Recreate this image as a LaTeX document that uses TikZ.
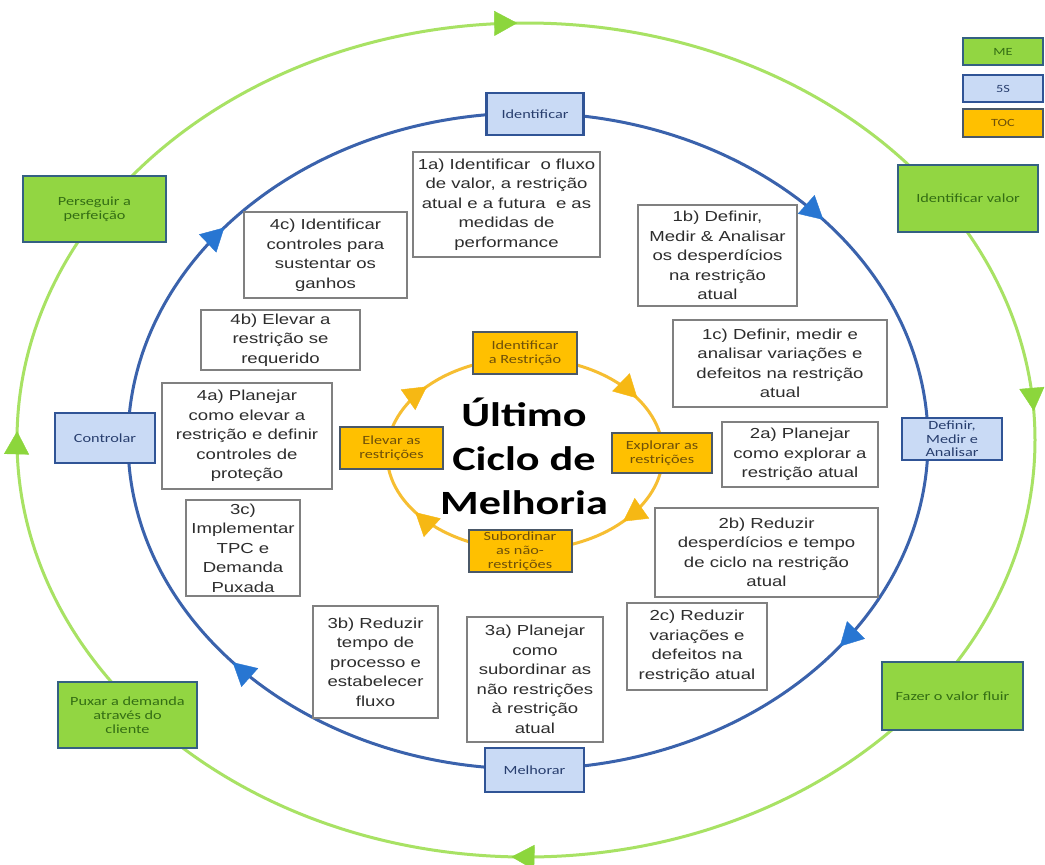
\documentclass[tikz,border=0pt]{standalone}
\usepackage{fontspec}
\usetikzlibrary{arrows.meta,decorations.markings}

\newfontfamily\bodyfont[FakeStretch=1.28]{Liberation Sans}
\newfontfamily\labelfont[FakeStretch=1.3]{Carlito}

\definecolor{leafgreen}{RGB}{146,214,66}
\definecolor{leafedge}{RGB}{52,96,130}
\definecolor{leaftext}{RGB}{52,110,20}
\definecolor{ringgreen}{RGB}{168,226,100}
\definecolor{arrowgreen}{RGB}{140,214,60}
\definecolor{skyfill}{RGB}{201,218,245}
\definecolor{skyedge}{RGB}{48,84,150}
\definecolor{skytext}{RGB}{40,62,110}
\definecolor{ringblue}{RGB}{58,98,172}
\definecolor{arrowblue}{RGB}{40,118,210}
\definecolor{ambfill}{RGB}{255,192,0}
\definecolor{ambedge}{RGB}{74,88,104}
\definecolor{ambtext}{RGB}{110,80,10}
\definecolor{ringamber}{RGB}{246,190,50}
\definecolor{arrowamber}{RGB}{246,184,20}
\definecolor{boxgray}{RGB}{128,128,128}
\definecolor{bodytext}{RGB}{45,45,45}

\tikzset{
  txtbox/.style={draw=boxgray, line width=1.4pt, fill=white, align=center,
    inner sep=1pt, text=bodytext, font=\bodyfont\fontsize{14.5}{19.5}\selectfont},
  leafbox/.style={draw=leafedge, line width=2pt, fill=leafgreen, align=center,
    inner sep=1pt, text=leaftext, font=\labelfont\fontsize{12.5}{14}\selectfont},
  skybox/.style={draw=skyedge, line width=2.2pt, fill=skyfill, align=center,
    inner sep=1pt, text=skytext, font=\labelfont\fontsize{12.5}{13.5}\selectfont},
  ambbox/.style={draw=ambedge, line width=2pt, fill=ambfill, align=center,
    inner sep=1pt, text=ambtext, font=\labelfont\fontsize{12.5}{14}\selectfont},
  cwtip/.style={decoration={markings, mark=at position #1 with {\arrowreversed{Triangle[length=23pt,width=25pt]}}}, postaction={decorate}},
  greenring/.style={draw=ringgreen, line width=3pt},
  bluering/.style={draw=ringblue, line width=3pt},
  amberring/.style={draw=ringamber, line width=3pt},
}

\begin{document}
\begin{tikzpicture}[x=1pt, y=-1pt]
\useasboundingbox (0,0) rectangle (1045,865);
\fill[white] (0,0) rectangle (1045,865);

% outer cycle (Lean)
\draw[greenring] (526,440) ellipse [x radius=509pt, y radius=417pt];
\begin{scope}[color=arrowgreen, fill=arrowgreen]
  \foreach \p in {0.01,0.253,0.497,0.745}
    \path[cwtip=\p] (526,440) ellipse [x radius=509pt, y radius=417pt];
\end{scope}

% middle cycle (Six Sigma)
\draw[bluering] (528,441) ellipse [x radius=400pt, y radius=328pt];
\begin{scope}[color=arrowblue, fill=arrowblue]
  \foreach \p in {0.11,0.395,0.61,0.9}
    \path[cwtip=\p] (528,441) ellipse [x radius=400pt, y radius=328pt];
\end{scope}

% inner cycle (TOC)
\draw[amberring] (525,454) ellipse [x radius=138pt, y radius=96pt];
\begin{scope}[color=arrowamber, fill=arrowamber]
  \foreach \p in {0.085,0.39,0.59,0.89}
    \path[cwtip=\p] (525,454) ellipse [x radius=138pt, y radius=96pt];
\end{scope}

% legend
\node[leafbox, minimum width=80pt, minimum height=27pt, font=\labelfont\fontsize{11}{12}\selectfont] (legME) at (1003,51.5) {ME};
\node[skybox, minimum width=80pt, minimum height=27pt, font=\labelfont\fontsize{11}{12}\selectfont] (leg5S) at (1003,88.5) {5S};
\node[ambbox, minimum width=80pt, minimum height=28pt, font=\labelfont\fontsize{11}{12}\selectfont] (legTOC) at (1003,122.5) {TOC};

% Lean steps
\node[leafbox, minimum width=143pt, minimum height=66pt] (perf) at (94.5,209) {Perseguir a\\perfeição};
\node[leafbox, minimum width=140pt, minimum height=67pt] (valor) at (968,198.5) {Identificar valor};
\node[leafbox, minimum width=141pt, minimum height=68pt] (fluir) at (952.5,696) {Fazer o valor fluir};
\node[leafbox, minimum width=139pt, minimum height=66pt] (puxar) at (127.5,715) {Puxar a demanda\\através do\\cliente};

% DMAIC phases
\node[skybox, minimum width=97pt, minimum height=42pt] (ident) at (535,114) {Identificar};
\node[skybox, minimum width=100pt, minimum height=42pt] (dma) at (952,439) {Definir,\\Medir e\\Analisar};
\node[skybox, minimum width=99pt, minimum height=44pt] (melh) at (534.5,770) {Melhorar};
\node[skybox, minimum width=100pt, minimum height=50pt] (ctrl) at (105,438) {Controlar};

% TOC steps
\node[ambbox, minimum width=104pt, minimum height=42pt] (tocid) at (525,353) {Identificar\\a Restrição};
\node[ambbox, minimum width=100pt, minimum height=40pt] (tocexp) at (662,453) {Explorar as\\restrições};
\node[ambbox, minimum width=103pt, minimum height=42pt] (tocsub) at (520,551) {Subordinar\\as não-\\restrições};
\node[ambbox, minimum width=103pt, minimum height=42pt] (tocelev) at (391.5,448) {Elevar as\\restrições};

% centre title
\node[align=center, text=black, font=\labelfont\bfseries\fontsize{34}{44}\selectfont] (title) at (524,456) {Último\\Ciclo de\\Melhoria};

% detailed actions
\node[txtbox, minimum width=187pt, minimum height=105pt] (a1) at (506.5,204.5) {1a) Identificar \ o fluxo\\de valor, a restrição\\atual e a futura \ e as\\medidas de\\performance};
\node[txtbox, minimum width=159pt, minimum height=101pt] (b1) at (717.5,255.5) {1b) Definir,\\Medir \& Analisar\\os desperdícios\\na restrição\\atual};
\node[txtbox, minimum width=214pt, minimum height=87pt] (c1) at (780,363.5) {1c) Definir, medir e\\analisar variações e\\defeitos na restrição\\atual};
\node[txtbox, minimum width=156pt, minimum height=65pt] (a2) at (800,454.5) {2a) Planejar\\como explorar a\\restrição atual};
\node[txtbox, minimum width=223pt, minimum height=89pt] (b2) at (766.5,552.5) {2b) Reduzir\\desperdícios e tempo\\de ciclo na restrição\\atual};
\node[txtbox, minimum width=140pt, minimum height=87pt] (c2) at (697,646.5) {2c) Reduzir\\variações e\\defeitos na\\restrição atual};
\node[txtbox, minimum width=136pt, minimum height=125pt] (a3) at (535,679.5) {3a) Planejar\\como\\subordinar as\\não restrições\\à restrição\\atual};
\node[txtbox, minimum width=125pt, minimum height=112pt] (b3) at (375.5,662) {3b) Reduzir\\tempo de\\processo e\\estabelecer\\fluxo};
\node[txtbox, minimum width=114pt, minimum height=96pt] (c3) at (243,548) {3c)\\Implementar\\TPC e\\Demanda\\Puxada};
\node[txtbox, minimum width=170pt, minimum height=106pt] (a4) at (247,436) {4a) Planejar\\como elevar a\\restrição e definir\\controles de\\proteção};
\node[txtbox, minimum width=159pt, minimum height=60pt] (b4) at (280.5,340) {4b) Elevar a\\restrição se\\requerido};
\node[txtbox, minimum width=163pt, minimum height=86pt] (c4) at (325.5,255) {4c) Identificar\\controles para\\sustentar os\\ganhos};
\end{tikzpicture}
\end{document}
